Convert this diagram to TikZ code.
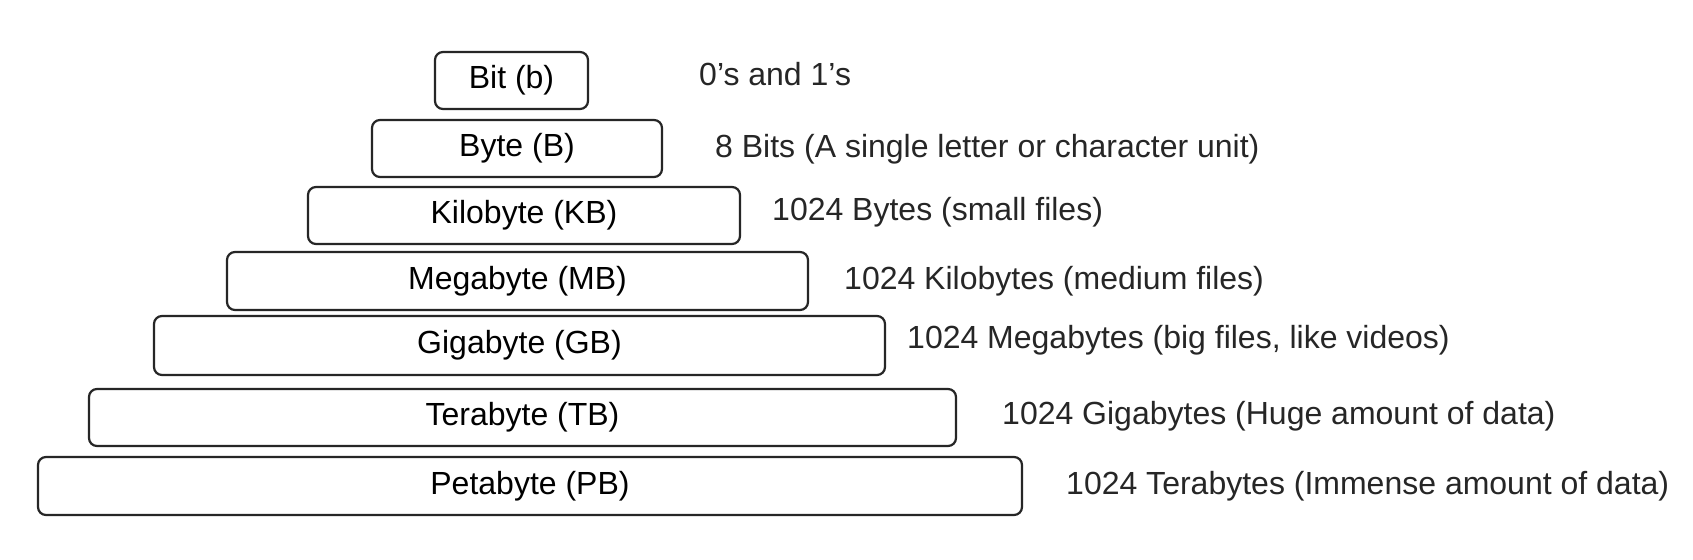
\documentclass[tikz,border=0pt]{standalone}
\usepackage{fontspec}
\setmainfont{Liberation Sans}
\begin{document}
\begin{tikzpicture}[x=1pt,y=-1pt,
  tier/.style={draw=black!85, line width=2.2pt, rounded corners=8pt, fill=white,
    minimum height=57pt, inner sep=0pt, font=\fontsize{32}{38}\selectfont},
  note/.style={anchor=west, inner sep=0pt, font=\fontsize{32}{38}\selectfont, text=black!85}]
\fill[white] (0,0) rectangle (1693,559);
\useasboundingbox (0,0) rectangle (1693,559);
\node[tier, minimum width=153pt] (bit) at (511.5,80.5) {Bit (b)};
\node[tier, minimum width=290pt] (byte) at (517,148.5) {Byte (B)};
\node[tier, minimum width=432pt] (kb) at (524,215.5) {Kilobyte (KB)};
\node[tier, minimum width=581pt, minimum height=58pt] (mb) at (517.5,281) {Megabyte (MB)};
\node[tier, minimum width=731pt, minimum height=59pt] (gb) at (519.5,345.5) {Gigabyte (GB)};
\node[tier, minimum width=867pt] (tb) at (522.5,417.5) {Terabyte (TB)};
\node[tier, minimum width=984pt, minimum height=58pt] (pb) at (530,486) {Petabyte (PB)};
\node[note] (nbit) at (699,74) {0's and 1's};
\node[note] (nbyte) at (715,149) {8 Bits (A single letter or character unit)};
\node[note] (nkb) at (772,212) {1024 Bytes (small files)};
\node[note] (nmb) at (844,281) {1024 Kilobytes (medium files)};
\node[note] (ngb) at (907,340) {1024 Megabytes (big files, like videos)};
\node[note] (ntb) at (1002,416) {1024 Gigabytes (Huge amount of data)};
\node[note] (npb) at (1066,486) {1024 Terabytes (Immense amount of data)};
\end{tikzpicture}
\end{document}
